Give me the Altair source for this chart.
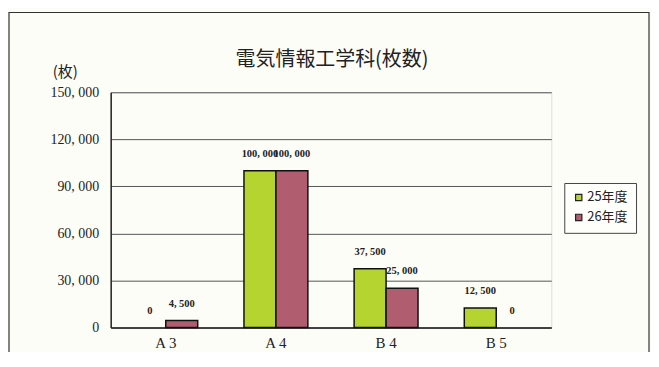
import altair as alt
import pandas as pd

categories = ["A 3", "A 4", "B 4", "B 5"]
years = ["25年度", "26年度"]
values_25 = [0, 100000, 37500, 12500]
values_26 = [4500, 100000, 25000, 0]
title_text = "電気情報工学科(枚数)"

rows = []
for i, c in enumerate(categories):
    rows.append({"cat": c, "year": years[0], "value": values_25[i]})
    rows.append({"cat": c, "year": years[1], "value": values_26[i]})
df = pd.DataFrame(rows)

FONT_SERIF = "Noto Sans CJK JP"
NUM_FONT = "Liberation Serif"

x = alt.X("cat:N", sort=categories,
          scale=alt.Scale(paddingInner=0.42, paddingOuter=0.21),
          axis=alt.Axis(title=None, labelAngle=0, labelFontSize=15, labelFont="Liberation Serif",
                        labelColor="#222", labelPadding=8, ticks=False, domain=True,
                        domainColor="#222", domainWidth=1.5, grid=False))
y = alt.Y("value:Q", scale=alt.Scale(domain=[0, 150000], nice=False),
          axis=alt.Axis(values=[0, 30000, 60000, 90000, 120000, 150000],
                        labelExpr="replace(format(datum.value, ','), ',', ', ')",
                        labelFont=NUM_FONT, labelFontSize=14, labelColor="#222", labelPadding=12,
                        ticks=False, domainColor="#222", domainWidth=1.5,
                        gridColor="#555", gridWidth=1,
                        title="(枚)", titleAngle=0, titleAlign="center", titleBaseline="alphabetic",
                        titleX=-46, titleY=-16, titleFont=FONT_SERIF, titleFontSize=15,
                        titleFontWeight="normal", titleColor="#222"))

color = alt.Color("year:N", sort=years,
                  scale=alt.Scale(domain=years, range=["#b6d430", "#b05d70"]),
                  legend=alt.Legend(title=None, orient="none", legendX=455, legendY=91,
                                    symbolType="square", symbolSize=40, symbolStrokeColor="#222",
                                    symbolStrokeWidth=1.2, labelFont=FONT_SERIF, labelFontSize=13,
                                    labelColor="#222", strokeColor="#444", padding=8,
                                    rowPadding=6, labelOffset=2, fillColor="#fefefa"))

bars = alt.Chart(df).transform_filter("datum.value > 0").mark_bar(
    stroke="#111", strokeWidth=1.5).encode(
    x=x, y=y, color=color,
    xOffset=alt.XOffset("year:N", sort=years, scale=alt.Scale(domain=years, paddingInner=0, paddingOuter=0)),
)

labels = alt.Chart(df).mark_text(dy=-17, fontSize=10.5, font=NUM_FONT, fontWeight="bold",
                                 color="#222", baseline="middle").encode(
    x=alt.X("cat:N", sort=categories),
    xOffset=alt.XOffset("year:N", sort=years),
    y="value:Q",
    text=alt.Text("label:N"),
).transform_calculate(label="replace(format(datum.value, ','), ',', ', ')")

one = pd.DataFrame({"t": [title_text]})

frame = alt.Chart(one).mark_rect(
    fill=None, stroke="#333", strokeWidth=1.2, clip=False).encode(
    x=alt.value(-102), x2=alt.value(540), y=alt.value(-80), y2=alt.value(300))

title = alt.Chart(one).mark_text(font=FONT_SERIF, fontSize=20, color="#222",
                                 align="center", baseline="alphabetic").encode(
    x=alt.value(222), y=alt.value(-26), text="t:N")

chart = alt.layer(frame, bars, labels, title).properties(
    width=442, height=236,
    padding={"left": 103, "top": 84, "right": 100, "bottom": 24},
    autosize=alt.AutoSizeParams(type="none"),
).configure_view(stroke="#222", strokeWidth=1.2, fill="#fdfbdc").configure(
    background="#fdfdf8")

chart.save("out.html", embed_options={"renderer": "svg", "actions": False})
